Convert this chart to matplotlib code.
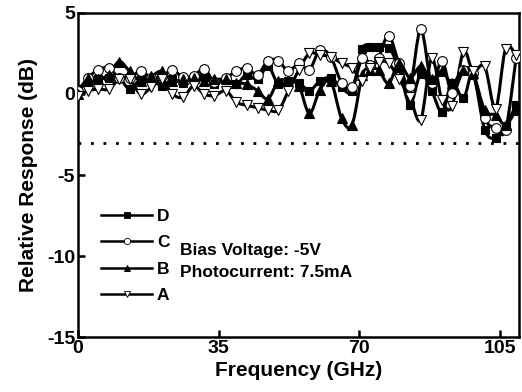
import numpy as np
import matplotlib
matplotlib.use('Agg')
import matplotlib.pyplot as plt
from matplotlib.path import Path
from matplotlib.patches import PathPatch
from matplotlib.lines import Line2D

plt.rcParams['font.family'] = ['Liberation Sans', 'DejaVu Sans']
plt.rcParams['font.weight'] = 'bold'
plt.rcParams['axes.unicode_minus'] = False

# frequency points (GHz)
freq = [0.1, 2.6, 5.1, 7.7, 10.3, 12.9, 15.6, 18.3, 20.9, 23.5, 26.2, 28.8, 31.4,
        34.0, 36.8, 39.4, 42.0, 44.7, 47.3, 49.9, 52.4, 55.0, 57.6, 60.2, 62.9,
        65.6, 68.2, 70.8, 72.8, 74.8, 77.3, 79.9, 82.6, 85.3, 88.0, 90.6, 93.1,
        95.9, 98.3, 101.2, 103.9, 106.4, 109.0]

# relative response (dB)
resp_a = [-0.1, 0.2, 0.3, 0.3, 0.9, 0.9, 0.0, 0.4, 0.9, 0.0, -0.2, 0.5, 0.0,
          -0.1, 0.2, -0.5, -0.7, -0.85, -1.0, -1.0, 0.2, 1.5, 2.5, 2.4, 2.3,
          1.9, 1.6, 0.8, 1.6, 2.0, 1.9, 0.9, -0.2, -1.6, 2.2, -0.4, -0.75,
          2.6, 1.4, 1.7, -0.9, 2.8, 2.4]
resp_b = [0.0, 1.0, 0.9, 1.2, 2.0, 1.4, 0.8, 1.1, 1.4, 0.8, 0.9, 1.0, 0.8,
          0.9, 0.9, 0.7, 0.6, 0.2, -0.3, 0.8, 0.8, 0.5, -1.2, 0.25, 0.8,
          -1.5, -1.9, 1.2, 1.5, 1.5, 0.65, 1.9, 1.0, 1.7, 0.9, 1.4, 0.65,
          1.5, 1.3, -1.0, -1.3, -1.9, -1.0]
resp_c = [0.2, 1.0, 1.5, 1.6, 1.0, 1.0, 1.4, 1.0, 1.1, 1.45, 1.05, 1.1, 1.55,
          0.75, 1.0, 1.4, 1.6, 1.2, 2.05, 2.05, 1.4, 1.9, 1.5, 2.7, 2.3,
          0.7, 0.4, 2.25, 1.8, 2.25, 3.6, 1.9, 0.5, 4.0, 0.65, 2.05, 0.05,
          1.45, 1.3, -1.5, -2.1, -2.2, 2.2]
resp_d = [0.3, 0.7, 0.9, 1.0, 1.0, 0.3, 0.9, 0.9, 0.5, 0.9, 0.7, 1.0, 1.2,
          0.6, 0.9, 0.6, 1.2, 0.9, 1.7, 0.6, 0.8, 0.7, 0.2, 0.8, 1.0,
          0.4, 0.2, 2.8, 2.9, 2.9, 2.85, 1.6, -0.65, 1.25, 0.2, -1.1, 0.7,
          -0.27, 1.2, -2.2, -2.7, -1.95, -0.7]

names = ['D', 'C', 'B', 'A']
series = [resp_d, resp_c, resp_b, resp_a]
markers = ['s', 'o', '^', 'v']
faces = ['black', 'white', 'black', 'white']
sizes = [5.5, 7, 7, 7.5]


def smooth_path(x, y):
    # catmull-rom curve through the points, as cubic bezier segments
    p = np.column_stack([x, y])
    pp = np.vstack([p[0], p, p[-1]])
    verts = [p[0]]
    codes = [Path.MOVETO]
    for i in range(1, len(pp) - 2):
        c1 = pp[i] + (pp[i + 1] - pp[i - 1]) / 6.0
        c2 = pp[i + 1] - (pp[i + 2] - pp[i]) / 6.0
        verts += [c1, c2, pp[i + 1]]
        codes += [Path.CURVE4] * 3
    return Path(verts, codes)


fig = plt.figure(figsize=(5.22, 3.92), dpi=100)
ax = fig.add_axes([0.149, 0.140, 0.845, 0.827])

for vals in series:
    ax.add_patch(PathPatch(smooth_path(freq, vals), facecolor='none',
                           edgecolor='black', lw=2.2, zorder=2))
for vals, m, fc, ms in zip(series, markers, faces, sizes):
    ax.plot(freq, vals, linestyle='none', marker=m, ms=ms, mfc=fc,
            mec='black', mew=0.8, zorder=3)

ax.axhline(-3, color='black', lw=2, linestyle=(0, (1, 3.5)), zorder=1)

ax.set_xlim(0, 109.7)
ax.set_ylim(-15, 5)
ax.set_xticks([0, 35, 70, 105])
ax.set_yticks([-15, -10, -5, 0, 5])
ax.tick_params(direction='in', length=5, width=1.8, labelsize=14, pad=2)
for s in ax.spines.values():
    s.set_linewidth(1.8)

ax.set_xlabel('Frequency (GHz)', fontsize=15, fontweight='bold', labelpad=3)
ax.set_ylabel('Relative Response (dB)', fontsize=15, fontweight='bold', labelpad=6)

handles = [Line2D([], [], color='black', lw=1.8, marker=m, ms=4.5, mfc=fc,
                  mec='black', mew=0.6) for m, fc in zip(markers, faces)]
ax.legend(handles, names, loc='upper left', bbox_to_anchor=(0.018, 0.445),
          frameon=False, handlelength=2.9, handletextpad=0.3,
          labelspacing=0.66, prop={'size': 12.5, 'weight': 'bold'})

ax.text(0.232, 0.268, 'Bias Voltage: -5V', transform=ax.transAxes,
        fontsize=12.5, fontweight='bold', va='center')
ax.text(0.232, 0.20, 'Photocurrent: 7.5mA', transform=ax.transAxes,
        fontsize=12.5, fontweight='bold', va='center')

fig.savefig('out.png', dpi=100)
